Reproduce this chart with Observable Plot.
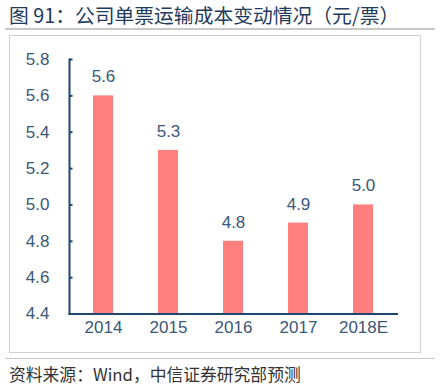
<!DOCTYPE html>
<html>
<head>
<meta charset="utf-8">
<script src="https://cdn.jsdelivr.net/npm/d3@7"></script>
<script src="https://cdn.jsdelivr.net/npm/@observablehq/plot@0.6"></script>
<style>
  html, body { margin: 0; padding: 0; background: #fff; }
  #wrap { position: relative; width: 442px; height: 385px; overflow: hidden; background: #fff; }
  #title { position: absolute; left: 9px; top: 2px; font-family: "Noto Sans CJK SC", sans-serif; font-size: 19.8px; color: #1f3b5c; white-space: nowrap; line-height: 26px; }
  #line1 { position: absolute; left: 5px; top: 28px; width: 430px; height: 2px; background: #c8c8c8; }
  #box { position: absolute; left: 9px; top: 35px; width: 410px; height: 316px; border: 1px solid #d0d0d0; }
  #line2 { position: absolute; left: 5px; top: 358px; width: 430px; height: 1px; background: #c8c8c8; }
  #source { position: absolute; left: 9px; top: 365px; font-family: "Noto Sans CJK SC", sans-serif; font-size: 16.8px; color: #333; white-space: nowrap; line-height: 19px; }
  #chart { position: absolute; left: 0; top: 0; }
</style>
</head>
<body>
<div id="wrap">
  <div id="title">图 91：公司单票运输成本变动情况（元/票）</div>
  <div id="line1"></div>
  <div id="box"></div>
  <div id="chart"></div>
  <div id="line2"></div>
  <div id="source">资料来源：Wind，中信证券研究部预测</div>
</div>
<script>
const years = ["2014", "2015", "2016", "2017", "2018E"];
const costs = [5.6, 5.3, 4.8, 4.9, 5.0];
const yTicks = [4.4, 4.6, 4.8, 5.0, 5.2, 5.4, 5.6, 5.8];

const data = years.map((y, i) => ({year: y, value: costs[i]}));
const axisColor = "#1f4770";
const textColor = "#3b5878";

const chart = Plot.plot({
  width: 442,
  height: 385,
  marginTop: 59,
  marginBottom: 71.5,
  marginLeft: 69,
  marginRight: 45.5,
  style: {fontFamily: "'Liberation Sans', Arial, sans-serif", fontSize: "17px", color: textColor, background: "transparent"},
  x: {domain: years, paddingInner: 0.69, paddingOuter: 0.345, label: null},
  y: {domain: [4.4, 5.8], label: null},
  marks: [
    Plot.barY(data, {x: "year", y1: 4.4, y2: "value", fill: "#ff7f7f"}),
    Plot.text(data, {x: "year", y: "value", text: d => d.value.toFixed(1), dy: -19, fill: textColor, fontSize: 17}),
    Plot.tickY(yTicks, {y: d => d, stroke: axisColor, strokeWidth: 2, insetRight: 324}),
    Plot.axisY({ticks: yTicks, tickSize: 0, tickPadding: 20, tickFormat: d => d.toFixed(1), fill: textColor, label: null}),
    Plot.axisX({tickSize: 0, tickPadding: 7, fill: textColor, label: null}),
    Plot.frame({anchor: "left", stroke: axisColor, strokeWidth: 2}),
    Plot.frame({anchor: "bottom", stroke: axisColor, strokeWidth: 2})
  ]
});
document.getElementById("chart").appendChild(chart);
</script>
</body>
</html>
